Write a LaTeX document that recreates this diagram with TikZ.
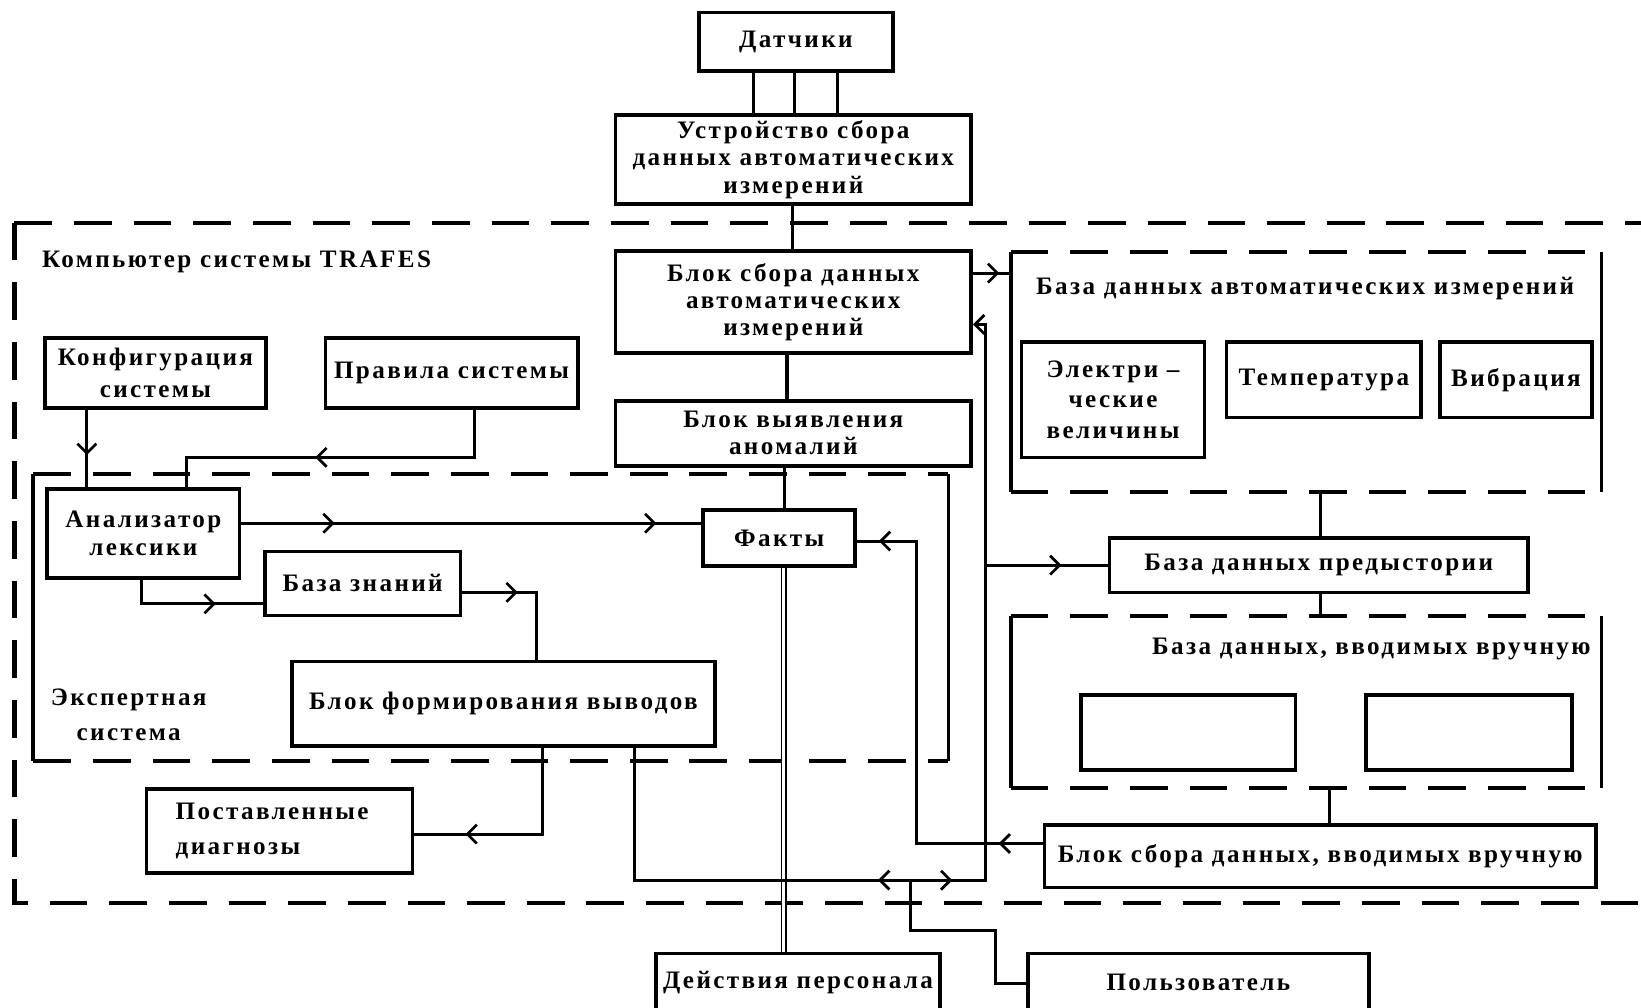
\documentclass[tikz,border=0pt]{standalone}
\usepackage{fontspec}
\setmainfont{Liberation Serif}[LetterSpace=9.5]
\usetikzlibrary{arrows.meta,decorations.markings}
\tikzset{
  barb/.tip={Straight Barb[length=9pt,width=18pt,line width=2.6pt]},
  txt/.style={font=\bfseries\fontsize{24}{26}\selectfont, inner sep=0pt, align=center},
  box/.style={txt, draw, line width=3.5pt, rectangle},
  cont/.style={rectangle, inner sep=0pt},
  ln/.style={line width=3pt},
  sd/.style={line width=3.5pt},
  dln/.style={line width=4pt, dash pattern=on 36pt off 21pt},
  dbl/.style={double, double distance=3pt, line width=1.6pt},
  mk/.style={postaction={decorate,decoration={markings,mark=at position #1 with {\arrow{barb}}}}},
}
\begin{document}
\begin{tikzpicture}[x=1pt,y=-1pt]
\useasboundingbox (0,0) rectangle (1568,963);
% containers
\node[cont, minimum width=1606pt, minimum height=650pt] (outer) at (817,538) {};
\node[cont, minimum width=564pt, minimum height=229pt] (bda) at (1248,355.5) {};
\node[cont, minimum width=564pt, minimum height=164pt] (bdm) at (1248,671) {};
\node[cont, minimum width=874pt, minimum height=274pt] (exp) at (469,590) {};
\draw[dln] (outer.north west) -- (outer.north east);
\draw[dln] (outer.north west) -- (outer.south west) -- (outer.south east);
\foreach \c in {bda,bdm,exp}{
  \draw[sd] (\c.north west) -- (\c.south west);
  \draw[sd] (\c.north east) -- (\c.south east);
  \draw[dln] (\c.north west) -- (\c.north east);
  \draw[dln] (\c.south west) -- (\c.south east);
}
% container labels
\node[txt, anchor=west] (tcomp) at (40,250) {Компьютер системы TRAFES};
\node[txt] (tbda) at (1247,276) {База данных автоматических измерений};
\node[txt, anchor=east] (tbdm) at (1520,620) {База данных, вводимых вручную};
\node[txt, font=\bfseries\fontsize{24}{33}\selectfont] (texp) at (123,683) {Экспертная\\система};
% boxes
\node[box, minimum width=185pt, minimum height=56pt] (dat) at (760.5,40) {Датчики};
\node[box, minimum width=340pt, minimum height=85pt] (ust) at (758,152.5) {Устройство сбора\\данных автоматических\\измерений};
\node[box, minimum width=340pt, minimum height=97pt] (bsa) at (758,288.5) {Блок сбора данных\\автоматических\\измерений};
\node[box, minimum width=340pt, minimum height=62pt] (bva) at (758,414) {Блок выявления\\аномалий};
\node[box, minimum width=145pt, minimum height=54pt] (fak) at (744.5,514) {Факты};
\node[box, minimum width=271pt, minimum height=55pt] (dei) at (762.5,938.5) {Действия персонала};
\node[box, minimum width=326pt, minimum height=55pt] (pol) at (1145,938.5) {Пользователь};
\node[box, minimum width=175pt, minimum height=110pt, font=\bfseries\fontsize{24}{29}\selectfont] (ele) at (1063.5,382) {Электри –\\ческие\\величины};
\node[box, minimum width=186pt, minimum height=72pt] (tem) at (1265,363) {Температура};
\node[box, minimum width=145pt, minimum height=72pt] (vib) at (1448.5,363) {Вибрация};
\node[box, minimum width=400pt, minimum height=52pt] (bdp) at (1260,540) {База данных предыстории};
\node[box, minimum width=205pt, minimum height=72pt] (e1) at (1135.5,700) {};
\node[box, minimum width=197pt, minimum height=72pt] (e2) at (1403.5,700) {};
\node[box, minimum width=527pt, minimum height=60pt] (bsm) at (1261.5,818) {Блок сбора данных, вводимых вручную};
\node[box, minimum width=211pt, minimum height=67pt, font=\bfseries\fontsize{24}{31}\selectfont] (kon) at (148.5,356.5) {Конфигурация\\системы};
\node[box, minimum width=241pt, minimum height=67pt] (pra) at (431.5,356.5) {Правила системы};
\node[box, minimum width=184pt, minimum height=85pt, font=\bfseries\fontsize{24}{27}\selectfont] (ana) at (137,509.5) {Анализатор\\лексики};
\node[box, minimum width=187pt, minimum height=61pt] (bz) at (346.5,557.5) {База знаний};
\node[box, minimum width=404pt, minimum height=81pt] (bfv) at (481,672.5) {Блок формирования выводов};
\node[box, minimum width=254pt, minimum height=80pt, align=left, font=\bfseries\fontsize{24}{33}\selectfont] (pd) at (267,794) {\hspace*{-14pt}Поставленные\\\hspace*{-14pt}диагнозы};
% connectors
\foreach \x in {720,759,800}{
  \draw[ln] (\x,0 |- dat.south) -- (\x,0 |- ust.north);
}
\draw[ln] (757,0 |- ust.south) -- (757,0 |- bsa.north);
\draw[ln] (752,0 |- bsa.south) -- (752,0 |- bva.north);
\draw[ln] (750,0 |- bva.south) -- (750,0 |- fak.north);
\draw[dbl] (749,0 |- fak.south) -- (749,0 |- dei.north);
\draw[ln, mk=-11pt] (bsa.east |- 0,261) -- (bda.west |- 0,261);
\coordinate (j1) at (942,841);
\coordinate (j2) at (870,841);
\coordinate (j3) at (942,540);
\draw[ln, mk=40pt, -{barb}] (j2) -- (j1) -- (j1 |- 0,310) -- (bsa.east |- 0,310);
\draw[ln, mk=-44pt] (j3) -- (bdp.west |- j3);
\draw[ln, mk=31pt] (j2) -- (606,841) -- (606,0 |- bfv.south);
\draw[ln] (j2) -- (870,889) -- (951,889) -- (951,940) -- (pol.west |- 0,940);
\draw[ln, mk=42pt, mk=-21pt] (bsm.west |- 0,806) -- (876,806) -- (876,517) -- (fak.east |- 0,517);
\draw[ln] (bda.south -| 1262,0) -- (bdp.north -| 1262,0);
\draw[ln] (bdp.south -| 1262,0) -- (bdm.north -| 1262,0);
\draw[ln] (bdm.south -| 1270,0) -- (bsm.north -| 1270,0);
\draw[ln, mk=43pt] (kon.south -| 83,0) -- (ana.north -| 83,0);
\draw[ln, mk=197pt] (pra.south -| 453,0) -- (453,437) -- (178,437) -- (ana.north -| 178,0);
\draw[ln, mk=89pt, mk=-43pt] (ana.east |- 0,500) -- (fak.west |- 0,500);
\draw[ln, mk=-45pt] (ana.south -| 135,0) -- (135,577) -- (bz.west |- 0,577);
\draw[ln, mk=53pt] (bz.east |- 0,566) -- (513,566) -- (bfv.north -| 513,0);
\draw[ln, mk=-49pt] (bfv.south -| 518,0) -- (518,797) -- (pd.east |- 0,797);
\end{tikzpicture}
\end{document}
